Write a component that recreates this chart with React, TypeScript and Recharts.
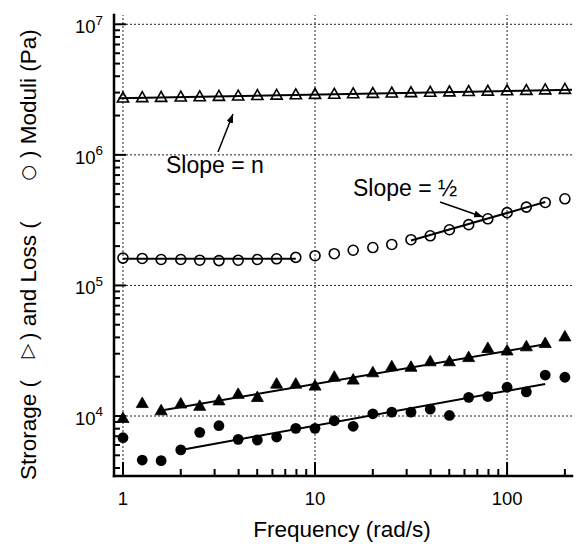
import React from 'react';
import { ComposedChart, XAxis, YAxis, Scatter, ReferenceLine } from 'recharts';

// ---------- data ----------
const FREQ = [1, 1.26, 1.58, 2, 2.51, 3.16, 3.98, 5.01, 6.31, 7.94, 10, 12.6, 15.8, 20, 25.1, 31.6, 39.8, 50.1, 63.1, 79.4, 100, 126, 158, 200];

const STORAGE_OPEN = [2.72e6, 2.74e6, 2.75e6, 2.77e6, 2.78e6, 2.8e6, 2.82e6, 2.84e6, 2.86e6, 2.88e6, 2.9e6, 2.91e6, 2.93e6, 2.95e6, 2.97e6, 2.99e6, 3.01e6, 3.03e6, 3.05e6, 3.07e6, 3.09e6, 3.11e6, 3.14e6, 3.17e6];
const LOSS_OPEN = [1.62e5, 1.61e5, 1.58e5, 1.58e5, 1.56e5, 1.55e5, 1.56e5, 1.58e5, 1.6e5, 1.64e5, 1.69e5, 1.75e5, 1.86e5, 1.95e5, 2.06e5, 2.24e5, 2.4e5, 2.67e5, 2.92e5, 3.24e5, 3.61e5, 3.98e5, 4.32e5, 4.61e5];
const STORAGE_FILLED = [9.6e3, 1.25e4, 1.1e4, 1.24e4, 1.19e4, 1.31e4, 1.47e4, 1.39e4, 1.76e4, 1.76e4, 1.7e4, 1.99e4, 1.89e4, 2.15e4, 2.39e4, 2.37e4, 2.61e4, 2.61e4, 2.81e4, 3.3e4, 3.16e4, 3.4e4, 3.6e4, 4.05e4];
const LOSS_FILLED = [6.82e3, 4.6e3, 4.55e3, 5.5e3, 7.5e3, 8.43e3, 6.63e3, 6.55e3, 6.9e3, 8.05e3, 8.05e3, 9.2e3, 8.34e3, 1.04e4, 1.07e4, 1.07e4, 1.13e4, 1.01e4, 1.39e4, 1.41e4, 1.66e4, 1.53e4, 2.06e4, 1.98e4];

// fit lines (endpoints)
const FIT_STORAGE_X = [0.95, 218];
const FIT_STORAGE_Y = [2.71e6, 3.15e6];
const FIT_PLATEAU_X = [1, 7.94];
const FIT_PLATEAU_Y = [1.6e5, 1.6e5];
const FIT_HALF_X = [31.6, 158];
const FIT_HALF_Y = [2.21e5, 4.35e5];
const FIT_FTRI_X = [1.58, 158];
const FIT_FTRI_Y = [1.1e4, 3.54e4];
const FIT_FCIR_X = [2, 158];
const FIT_FCIR_Y = [5.5e3, 1.76e4];

// axes
const X_DOMAIN = [0.898, 217.8];
const Y_DOMAIN = [3472, 1.178e7];
const X_MAJOR = [1, 10, 100];
const X_TICKS = [1, 2, 3, 4, 5, 6, 7, 8, 9, 10, 20, 30, 40, 50, 60, 70, 80, 90, 100, 200];
const Y_MAJOR = [1e4, 1e5, 1e6, 1e7];
const Y_TICKS = [4e3, 5e3, 6e3, 7e3, 8e3, 9e3, 1e4, 2e4, 3e4, 4e4, 5e4, 6e4, 7e4, 8e4, 9e4, 1e5, 2e5, 3e5, 4e5, 5e5, 6e5, 7e5, 8e5, 9e5, 1e6, 2e6, 3e6, 4e6, 5e6, 6e6, 7e6, 8e6, 9e6, 1e7];

const X_LABEL = 'Frequency (rad/s)';
const Y_LABEL_PARTS = ['Strorage (', '\u25B7', ') and Loss (', '\u25CB', ') Moduli (Pa)'];
const NOTE_N = 'Slope = n';
const NOTE_HALF = 'Slope = \u00BD';

const FONT = '"Liberation Sans", Arial, Helvetica, sans-serif';

const zip = (xs: number[], ys: number[]) => xs.map((x, i) => ({ x, y: ys[i] }));

// ---------- ticks ----------
const XTick = (p: any) => {
  const { x, y, payload } = p;
  const major = X_MAJOR.includes(payload.value);
  return (
    <g>
      <line x1={x} x2={x} y1={y} y2={y - (major ? 14 : 7)} stroke="#000" strokeWidth={2} />
      {major && (
        <text x={x} y={y + 29} textAnchor="middle" fontSize={18.5} fontFamily={FONT} fill="#000">
          {payload.value}
        </text>
      )}
    </g>
  );
};

const YTickLeft = (p: any) => {
  const { x, y, payload } = p;
  const major = Y_MAJOR.includes(payload.value);
  const exp = Math.round(Math.log10(payload.value));
  return (
    <g>
      <line x1={x} x2={x + (major ? 12 : 6)} y1={y} y2={y} stroke="#000" strokeWidth={2} />
      {major && (
        <text x={x - 11} y={y + 9} textAnchor="end" fontSize={18.5} fontFamily={FONT} fill="#000">
          10
          <tspan dy={-8.7} fontSize={13.5}>{exp}</tspan>
        </text>
      )}
    </g>
  );
};

const YTickRight = (p: any) => {
  const { x, y, payload } = p;
  const major = Y_MAJOR.includes(payload.value);
  return <line x1={x} x2={x - (major ? 12 : 6)} y1={y} y2={y} stroke="#000" strokeWidth={2} />;
};

// ---------- markers ----------
const OpenTri = (p: any) => (
  <polygon
    points={`${p.cx},${p.cy - 6} ${p.cx - 5.6},${p.cy + 3.9} ${p.cx + 5.6},${p.cy + 3.9}`}
    fill="none"
    stroke="#000"
    strokeWidth={1.6}
  />
);
const FilledTri = (p: any) => (
  <polygon
    points={`${p.cx},${p.cy - 6.3} ${p.cx - 6},${p.cy + 4.2} ${p.cx + 6},${p.cy + 4.2}`}
    fill="#000"
    stroke="#000"
    strokeWidth={0.8}
  />
);
const OpenCircle = (p: any) => <circle cx={p.cx} cy={p.cy} r={5} fill="none" stroke="#000" strokeWidth={1.6} />;
const FilledCircle = (p: any) => <circle cx={p.cx} cy={p.cy} r={5.4} fill="#000" />;
const NoMark = () => <g />;

const frame = { stroke: '#000', strokeWidth: 2.5, strokeLinecap: 'square' as const };
const grid = { stroke: '#222', strokeWidth: 1, strokeDasharray: '2 2' };
const fitLine = { stroke: '#000', strokeWidth: 2 };

export default function App() {
  return (
    <div style={{ position: 'absolute', left: 0, top: 0, width: 576, height: 544, background: '#fff' }}>
      <ComposedChart width={576} height={544} margin={{ top: 15, right: 4, bottom: 0, left: 0 }}>
        <XAxis
          xAxisId={0}
          dataKey="x"
          type="number"
          scale="log"
          domain={X_DOMAIN}
          allowDataOverflow
          ticks={X_TICKS}
          interval={0}
          tickSize={0}
          tickMargin={0}
          tickLine={false}
          tick={(p: any) => <XTick {...p} />}
          axisLine={frame}
          height={68}
        />
        <XAxis
          xAxisId="top"
          orientation="top"
          type="number"
          scale="log"
          domain={X_DOMAIN}
          allowDataOverflow
          ticks={X_MAJOR}
          tick={false}
          tickLine={false}
          axisLine={frame}
          height={0}
        />
        <YAxis
          yAxisId={0}
          dataKey="y"
          type="number"
          scale="log"
          domain={Y_DOMAIN}
          allowDataOverflow
          ticks={Y_TICKS}
          interval={0}
          tickSize={0}
          tickMargin={0}
          tickLine={false}
          tick={(p: any) => <YTickLeft {...p} />}
          axisLine={frame}
          width={114}
        />
        <YAxis
          yAxisId="right"
          orientation="right"
          type="number"
          scale="log"
          domain={Y_DOMAIN}
          allowDataOverflow
          ticks={Y_TICKS}
          interval={0}
          tickSize={0}
          tickMargin={0}
          tickLine={false}
          tick={(p: any) => <YTickRight {...p} />}
          axisLine={frame}
          width={0}
        />

        {X_MAJOR.map((v) => (
          <ReferenceLine key={'gx' + v} x={v} {...grid} />
        ))}
        {Y_MAJOR.map((v) => (
          <ReferenceLine key={'gy' + v} y={v} {...grid} />
        ))}

        <Scatter data={zip(FIT_STORAGE_X, FIT_STORAGE_Y)} line={fitLine} shape={NoMark} isAnimationActive={false} />
        <Scatter data={zip(FIT_PLATEAU_X, FIT_PLATEAU_Y)} line={fitLine} shape={NoMark} isAnimationActive={false} />
        <Scatter data={zip(FIT_HALF_X, FIT_HALF_Y)} line={fitLine} shape={NoMark} isAnimationActive={false} />
        <Scatter data={zip(FIT_FTRI_X, FIT_FTRI_Y)} line={fitLine} shape={NoMark} isAnimationActive={false} />
        <Scatter data={zip(FIT_FCIR_X, FIT_FCIR_Y)} line={fitLine} shape={NoMark} isAnimationActive={false} />

        <Scatter data={zip(FREQ, STORAGE_OPEN)} shape={OpenTri} isAnimationActive={false} />
        <Scatter data={zip(FREQ, LOSS_OPEN)} shape={OpenCircle} isAnimationActive={false} />
        <Scatter data={zip(FREQ, STORAGE_FILLED)} shape={FilledTri} isAnimationActive={false} />
        <Scatter data={zip(FREQ, LOSS_FILLED)} shape={FilledCircle} isAnimationActive={false} />
      </ComposedChart>

      <svg
        width={576}
        height={544}
        style={{ position: 'absolute', left: 0, top: 0, pointerEvents: 'none' }}
        fontFamily={FONT}
      >
        <defs>
          <marker id="ah" markerWidth={9} markerHeight={7} refX={9} refY={3.5} orient="auto" markerUnits="userSpaceOnUse">
            <path d="M0,0 L9,3.5 L0,7 z" fill="#000" />
          </marker>
        </defs>
        {/* annotations */}
        <text x={166} y={173} fontSize={23} fill="#000">{NOTE_N}</text>
        <line x1={218} y1={152} x2={233} y2={114} stroke="#000" strokeWidth={1.5} markerEnd="url(#ah)" />
        <text x={353} y={196} fontSize={23} fill="#000">{NOTE_HALF}</text>
        <line x1={440} y1={202} x2={483} y2={217} stroke="#000" strokeWidth={1.5} markerEnd="url(#ah)" />

        {/* x label */}
        <text x={342} y={537} textAnchor="middle" fontSize={22.5} fill="#000">{X_LABEL}</text>

        {/* y label (rotated) */}
        <text transform="translate(36,480) rotate(-90)" fontSize={22.5} fill="#000">{Y_LABEL_PARTS[0]}</text>
        <text transform="translate(33,351) rotate(-90)" textAnchor="middle" fontSize={19} fill="#000" fontFamily="DejaVu Sans">{Y_LABEL_PARTS[1]}</text>
        <text transform="translate(36,340) rotate(-90)" fontSize={22.5} fill="#000">{Y_LABEL_PARTS[2]}</text>
        <text transform="translate(34,173) rotate(-90)" textAnchor="middle" fontSize={18} fill="#000" fontFamily="DejaVu Sans">{Y_LABEL_PARTS[3]}</text>
        <text transform="translate(36,158) rotate(-90)" fontSize={22.5} fill="#000">{Y_LABEL_PARTS[4]}</text>
      </svg>
    </div>
  );
}
